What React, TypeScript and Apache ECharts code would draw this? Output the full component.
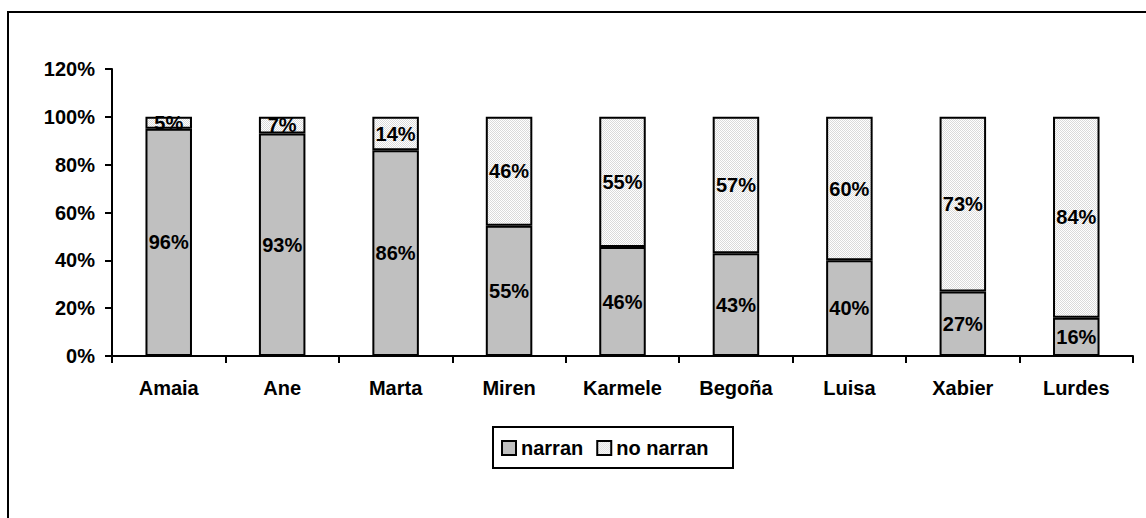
import React, { useEffect, useRef } from "react";
import * as echarts from "echarts";

const categories = ["Amaia", "Ane", "Marta", "Miren", "Karmele", "Begoña", "Luisa", "Xabier", "Lurdes"];
const narran = [96, 93, 86, 55, 46, 43, 40, 27, 16];
const noNarran = [5, 7, 14, 46, 55, 57, 60, 73, 84];
const yTicks = [0, 20, 40, 60, 80, 100, 120];

function makePattern(): any {
  const c = document.createElement("canvas");
  c.width = 2;
  c.height = 2;
  const ctx = c.getContext("2d");
  if (!ctx) return "#ececec";
  ctx.fillStyle = "#ffffff";
  ctx.fillRect(0, 0, 2, 2);
  ctx.fillStyle = "#dadada";
  ctx.fillRect(0, 0, 1, 1);
  ctx.fillRect(1, 1, 1, 1);
  return { image: c, repeat: "repeat" };
}

export default function App() {
  const ref = useRef<HTMLDivElement>(null);
  useEffect(() => {
    if (!ref.current) return;
    const chart = echarts.init(ref.current, null, { renderer: "svg" });
    const totals = narran.map((v, i) => v + noNarran[i]);
    const font = "'Liberation Sans', Arial, sans-serif";
    const labelStyle = {
      show: true,
      position: "inside",
      color: "#000",
      fontFamily: font,
      fontWeight: "bold",
      fontSize: 20,
    };
    chart.setOption({
      animation: false,
      backgroundColor: "#fff",
      grid: { left: 112, right: 13, top: 69, bottom: 162 },
      legend: {
        left: 501,
        top: 438,
        itemWidth: 14,
        itemHeight: 14,
        itemGap: 13,
        icon: "rect",
        padding: 0,
        textStyle: { fontFamily: font, fontWeight: "bold", fontSize: 20, color: "#000" },
        data: ["narran", "no narran"],
      },
      graphic: [
        {
          type: "rect",
          shape: { x: 8, y: 12, width: 1160, height: 540 },
          style: { fill: "none", stroke: "#000", lineWidth: 2 },
          silent: true,
          z: -10,
        },
        {
          type: "rect",
          shape: { x: 493, y: 427, width: 240, height: 41 },
          style: { fill: "none", stroke: "#000", lineWidth: 2 },
          silent: true,
        },
      ],
      xAxis: {
        type: "category",
        data: categories,
        axisLine: { lineStyle: { color: "#000", width: 2 } },
        axisTick: { show: true, length: 7, lineStyle: { color: "#000", width: 2 } },
        axisLabel: { color: "#000", fontFamily: font, fontWeight: "bold", fontSize: 20, margin: 22 },
      },
      yAxis: {
        type: "value",
        min: 0,
        max: 120,
        interval: 20,
        axisLine: { show: true, lineStyle: { color: "#000", width: 2 } },
        axisTick: { show: true, length: 7, lineStyle: { color: "#000", width: 2 } },
        splitLine: { show: false },
        axisLabel: {
          color: "#000",
          fontFamily: font,
          fontWeight: "bold",
          fontSize: 20,
          margin: 17,
          formatter: (v: number) => (yTicks.includes(v) ? v + "%" : ""),
        },
      },
      series: [
        {
          name: "narran",
          type: "bar",
          stack: "a",
          barWidth: "41%",
          data: narran.map((v, i) => (v / totals[i]) * 100),
          itemStyle: { color: "#c0c0c0", borderColor: "#000", borderWidth: 2 },
          label: { ...labelStyle, formatter: (p: any) => narran[p.dataIndex] + "%" },
        },
        {
          name: "no narran",
          type: "bar",
          stack: "a",
          barWidth: "41%",
          data: noNarran.map((v, i) => (v / totals[i]) * 100),
          itemStyle: { color: makePattern(), borderColor: "#000", borderWidth: 2 },
          label: { ...labelStyle, formatter: (p: any) => noNarran[p.dataIndex] + "%" },
        },
      ],
    });
    return () => chart.dispose();
  }, []);
  return (
    <div
      ref={ref}
      style={{ position: "fixed", left: 0, top: 0, width: 1146, height: 518, background: "#fff" }}
    />
  );
}
